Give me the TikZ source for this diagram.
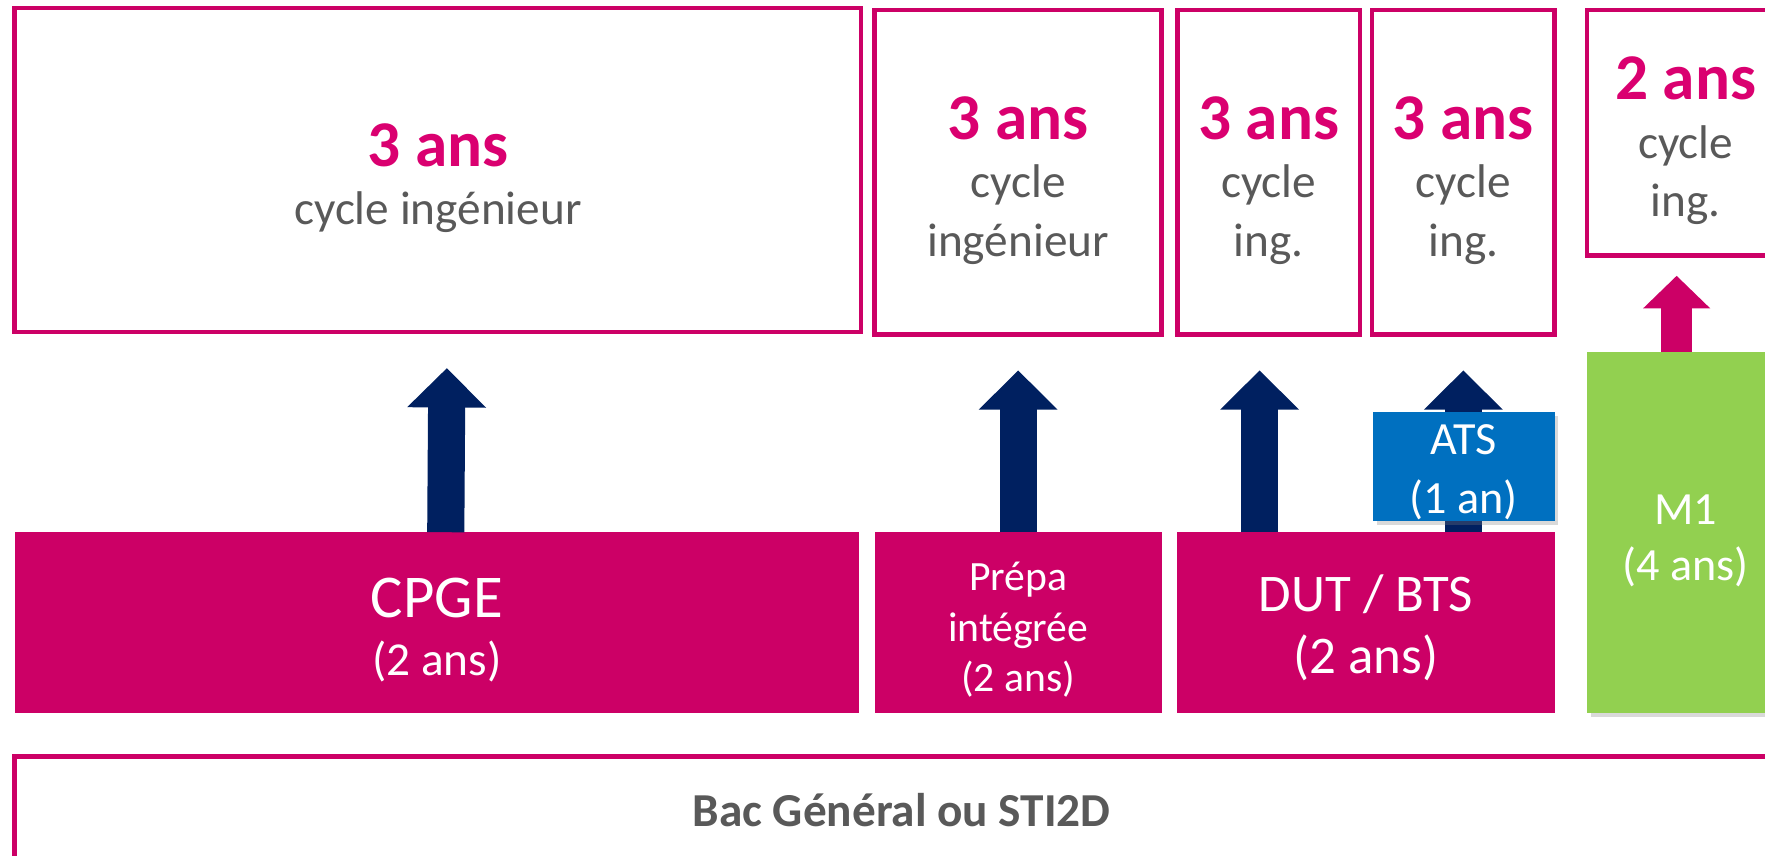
\documentclass[tikz,border=0pt]{standalone}
\usepackage{fontspec}
\setmainfont{Carlito}
\usetikzlibrary{positioning,arrows.meta,shadows}

\definecolor{rose}{RGB}{204,0,102}
\definecolor{rosetext}{RGB}{218,0,112}
\definecolor{grey}{RGB}{89,89,89}
\definecolor{navy}{RGB}{0,32,96}
\definecolor{atsblue}{RGB}{0,112,192}
\definecolor{mgreen}{RGB}{146,208,80}

\newcommand{\padtop}[1]{\rule{0pt}{#1em}}
\newcommand{\ansbig}[1]{{\fontsize{58}{60}\selectfont\bfseries\color{rosetext}\padtop{0.9}#1}}

\tikzset{
  cycbox/.style={draw=rose, line width=4pt, fill=white, align=center, text=grey,
    inner sep=0pt, font=\fontsize{42}{52}\selectfont},
  prepbox/.style={fill=rose, text=white, align=center, inner sep=0pt,
    font=\fontsize{42}{52}\selectfont},
  boxshadow/.style={drop shadow={shadow xshift=3pt, shadow yshift=-4pt, opacity=.3}},
  uparrow/.style={navy, line width=33pt, -{Triangle[width=68pt,length=35pt]}},
  pinkarrow/.style={rose, line width=27pt, -{Triangle[width=58pt,length=29pt]}}
}

\begin{document}
\begin{tikzpicture}[x=1pt,y=-1pt]
\useasboundingbox (0,0) rectangle (1568,760);

\node[cycbox, minimum width=752pt, minimum height=288pt] (cyc1) at (389,151)
  {\ansbig{3 ans}\\cycle ingénieur};
\node[cycbox, minimum width=255pt, minimum height=288pt] (cyc2) at (904.5,153)
  {\ansbig{3 ans}\\cycle\\ingénieur};
\node[cycbox, minimum width=162pt, minimum height=288pt] (cyc3) at (1127,153)
  {\ansbig{3 ans}\\cycle\\ing.};
\node[cycbox, minimum width=162pt, minimum height=288pt] (cyc4) at (1300,153)
  {\ansbig{3 ans}\\cycle\\ing.};
\node[cycbox, minimum width=175pt, minimum height=218pt] (cyc5) at (1497.5,118)
  {\ansbig{2 ans}\\cycle\\ing.};

\node[prepbox, minimum width=750pt, minimum height=160pt] (cpge) at (388,553)
  {{\fontsize{54}{54}\selectfont\padtop{0.9}CPGE}\\(2 ans)};
\node[prepbox, font=\fontsize{37}{45}\selectfont, minimum width=255pt,
  minimum height=160pt] (prepa) at (904.5,553) {\padtop{1.03}Prépa\\intégrée\\(2 ans)};
\node[prepbox, font=\fontsize{47}{55}\selectfont, minimum width=335pt,
  minimum height=160pt] (dut) at (1213.5,553) {\padtop{0.9}DUT / BTS\\(2 ans)};
\node[prepbox, boxshadow, fill=mgreen, font=\fontsize{41}{50}\selectfont,
  minimum width=175pt, minimum height=320pt] (m1) at (1497.5,473) {\padtop{1}M1\\(4 ans)};

\node[cycbox, font=\fontsize{42}{50}\selectfont\bfseries, minimum width=1576pt,
  minimum height=96pt] (bac) at (801,720) {Bac Général ou STI2D};

\draw[uparrow] ([xshift=8pt]cpge.north) -- ([xshift=8pt,yshift=-30pt]cyc1.south);
\draw[uparrow] (prepa.north) -- ([yshift=-30pt]cyc2.south);
\draw[uparrow] ([xshift=-8pt]cyc3.south |- dut.north) -- ([xshift=-8pt,yshift=-30pt]cyc3.south);
\draw[uparrow] (cyc4.south |- dut.north) -- ([yshift=-30pt]cyc4.south);
\draw[pinkarrow] ([xshift=-8pt]m1.north) -- ([xshift=-8pt,yshift=-16pt]cyc5.south);

\node[prepbox, boxshadow, fill=atsblue, font=\fontsize{41}{53}\selectfont,
  text depth=0pt, minimum width=161pt, minimum height=97pt,
  above left=10pt and 0pt of dut.north east] (ats) {\padtop{0.78}ATS\\(1 an)};
\end{tikzpicture}
\end{document}
